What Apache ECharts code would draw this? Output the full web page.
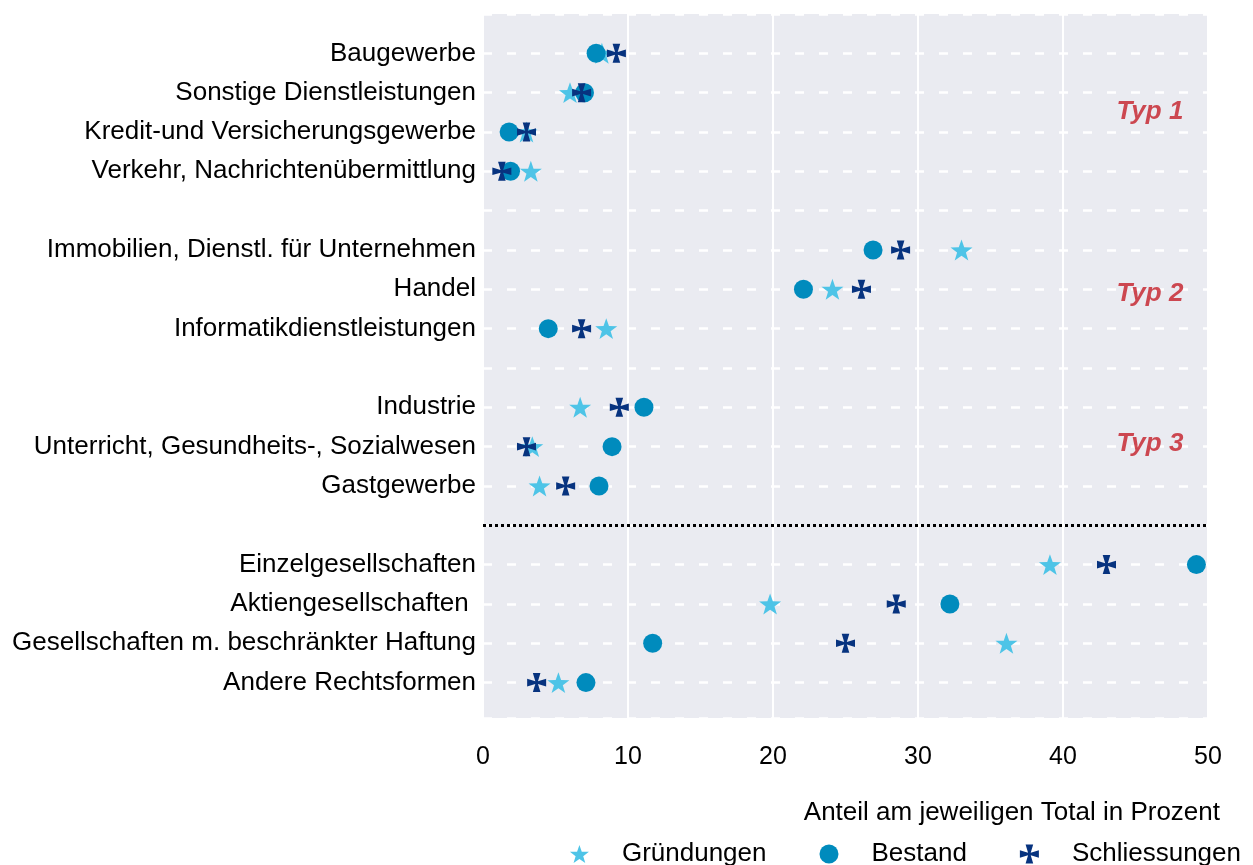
<!DOCTYPE html>
<html lang="de">
  <head>
    <meta charset="UTF-8" />
    <title>Gründungen, Bestand, Schliessungen</title>
    <script src="https://cdn.jsdelivr.net/npm/echarts@6/dist/echarts.min.js"></script>
    <style>
      html, body { margin: 0; padding: 0; background: #fff; }
      #main { width: 1253px; height: 865px; }
    </style>
  </head>
  <body>
    <div id="main"></div>
  </body>
  <script>
    // Zeilen von oben nach unten, "" = Leerzeile
    const categories = [
      "Baugewerbe",
      "Sonstige Dienstleistungen",
      "Kredit-und Versicherungsgewerbe",
      "Verkehr, Nachrichtenübermittlung",
      "",
      "Immobilien, Dienstl. für Unternehmen",
      "Handel",
      "Informatikdienstleistungen",
      "",
      "Industrie",
      "Unterricht, Gesundheits-, Sozialwesen",
      "Gastgewerbe",
      "",
      "Einzelgesellschaften",
      "Aktiengesellschaften ",
      "Gesellschaften m. beschränkter Haftung",
      "Andere Rechtsformen",
    ];
    // Anteile in Prozent
    const gruendungen = [8.2, 6.0, 3.0, 3.3, null, 33.0, 24.1, 8.5, null, 6.7, 3.4, 3.9, null, 39.1, 19.8, 36.1, 5.2];
    const bestand = [7.8, 7.0, 1.8, 1.9, null, 26.9, 22.1, 4.5, null, 11.1, 8.9, 8.0, null, 49.2, 32.2, 11.7, 7.1];
    const schliessungen = [9.2, 6.8, 3.0, 1.3, null, 28.8, 26.1, 6.8, null, 9.4, 3.0, 5.7, null, 43.0, 28.5, 25.0, 3.7];
    const separatorRow = 13;
    const typLabels = ["Typ 1", "Typ 2", "Typ 3"];
    const typRows = [2.5, 7.12, 10.93];
    const typX = 48.3;
    const xTicks = [0, 10, 20, 30, 40, 50];

    const starPath =
      "path://M50,0 L61.76,33.82 L97.55,34.55 L69.02,56.18 L79.39,90.45 L50,70 L20.61,90.45 L30.98,56.18 L2.45,34.55 L38.24,33.82 Z";
    const crossPath =
      "path://M30,0 L70,0 L57,43 L100,30 L100,70 L57,57 L70,100 L30,100 L43,57 L0,70 L0,30 L43,43 Z";

    const fontFamily = "'Liberation Sans', Arial, sans-serif";

    function toPoints(values) {
      const out = [];
      values.forEach(function (v, i) {
        if (v !== null) out.push([v, i + 1]);
      });
      return out;
    }

    var chart = echarts.init(document.getElementById("main"));
    var option = {
      animation: false,
      textStyle: { fontFamily: fontFamily },
      grid: { left: 483, top: 14, width: 725, height: 704, backgroundColor: "#eaebf1", show: true, borderWidth: 0 },
      xAxis: {
        type: "value",
        min: xTicks[0],
        max: xTicks[xTicks.length - 1],
        interval: 10,
        axisLine: { show: false, onZero: false },
        axisTick: { show: false },
        axisLabel: { color: "#000", fontSize: 25, margin: 27, fontFamily: fontFamily },
        splitLine: { lineStyle: { color: "#fff", width: 2 } },
        name: "Anteil am jeweiligen Total in Prozent",
        nameLocation: "end",
        nameGap: 12,
        nameTextStyle: { color: "#000", fontSize: 26, align: "right", verticalAlign: "top", padding: [82, 0, 0, 0] },
      },
      yAxis: {
        type: "value",
        inverse: true,
        min: 0,
        max: 17.9,
        interval: 1,
        axisLine: { show: false },
        axisTick: { show: false },
        axisLabel: {
          color: "#000",
          fontSize: 26,
          margin: 7,
          formatter: function (v) {
            return Number.isInteger(v) && v >= 1 ? categories[v - 1] : "";
          },
        },
        splitLine: { lineStyle: { color: "#fff", width: 2.5, type: [9, 15] } },
      },
      legend: {
        data: ["Gründungen", "Bestand", "Schliessungen"],
        right: 7,
        top: 836,
        itemWidth: 19,
        itemHeight: 19,
        itemGap: 53,
        textStyle: { color: "#000", fontSize: 26, padding: [0, 0, 0, 28] },
      },
      series: [
        {
          name: "Gründungen",
          type: "scatter",
          symbol: starPath,
          symbolKeepAspect: true,
          symbolSize: 22,
          itemStyle: { color: "#4ec4e7", opacity: 1 },
          data: toPoints(gruendungen),
          markLine: {
            silent: true,
            symbol: "none",
            label: { show: false },
            lineStyle: { color: "#000", width: 3, type: [3, 3] },
            data: [{ yAxis: separatorRow }],
          },
        },
        {
          name: "Bestand",
          type: "scatter",
          symbol: "circle",
          symbolSize: 19,
          itemStyle: { color: "#008bbd", opacity: 1 },
          data: toPoints(bestand),
        },
        {
          name: "Schliessungen",
          type: "scatter",
          symbol: crossPath,
          symbolKeepAspect: true,
          symbolSize: 19,
          itemStyle: { color: "#07337f", opacity: 1 },
          data: toPoints(schliessungen),
        },
        {
          type: "scatter",
          silent: true,
          symbolSize: 0,
          data: typLabels.map(function (t, i) {
            return { name: t, value: [typX, typRows[i]] };
          }),
          label: {
            show: true,
            position: "left",
            distance: 0,
            formatter: "{b}",
            color: "#c41e28",
            fontSize: 26,
            fontWeight: "bold",
            fontStyle: "italic",
          },
        },
      ],
    };
    chart.setOption(option);
  </script>
</html>
